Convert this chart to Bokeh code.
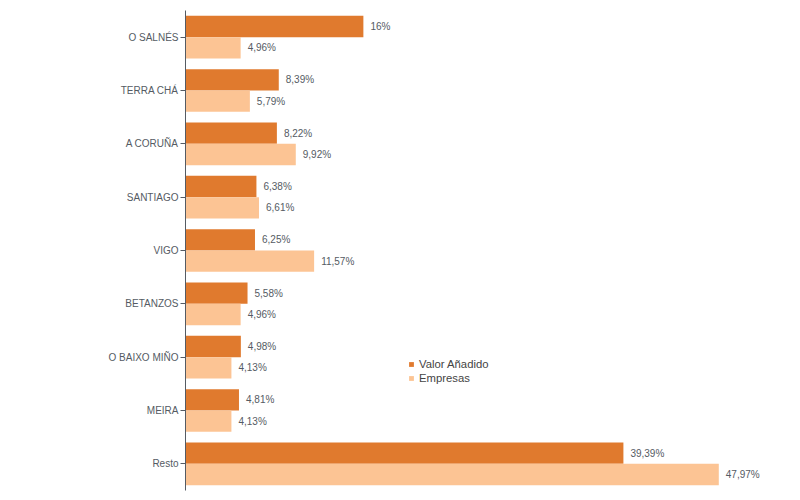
from bokeh.plotting import figure
from bokeh.models import ColumnDataSource, FactorRange, Range1d, Legend, LegendItem
from bokeh.transform import dodge
from bokeh.core.properties import value
from bokeh.embed import file_html
from bokeh.resources import INLINE

categories = ["O SALNÉS", "TERRA CHÁ", "A CORUÑA", "SANTIAGO", "VIGO",
              "BETANZOS", "O BAIXO MIÑO", "MEIRA", "Resto"]
valor_anadido = [16, 8.39, 8.22, 6.38, 6.25, 5.58, 4.98, 4.81, 39.39]
empresas = [4.96, 5.79, 9.92, 6.61, 11.57, 4.96, 4.13, 4.13, 47.97]
series_names = ["Valor Añadido", "Empresas"]

DARK = "#e07a2e"
LIGHT = "#fcc494"
TXT = "#555b63"
FONT = "Liberation Sans"

def fmt(v):
    return f"{v:g}".replace(".", ",") + "%"

src = ColumnDataSource(dict(
    cat=categories,
    va=valor_anadido,
    em=empresas,
    va_lbl=[fmt(v) for v in valor_anadido],
    em_lbl=[fmt(v) for v in empresas],
))

p = figure(width=792, height=492, output_backend="svg", toolbar_location=None,
           y_range=FactorRange(factors=list(reversed(categories)), range_padding=0),
           x_range=Range1d(0, 54.6),
           min_border_left=185, min_border_right=0, min_border_top=10, min_border_bottom=2)

r1 = p.hbar(y=dodge("cat", 0.2, range=p.y_range), right="va", left=0, height=0.4,
            source=src, color=DARK, line_color=None)
r2 = p.hbar(y=dodge("cat", -0.2, range=p.y_range), right="em", left=0, height=0.4,
            source=src, color=LIGHT, line_color=None)

p.text(x="va", y=dodge("cat", 0.2, range=p.y_range), text="va_lbl", source=src,
       x_offset=7, text_baseline="middle", text_align="left",
       text_font=value(FONT), text_font_size="10px", text_color=TXT)
p.text(x="em", y=dodge("cat", -0.2, range=p.y_range), text="em_lbl", source=src,
       x_offset=7, text_baseline="middle", text_align="left",
       text_font=value(FONT), text_font_size="10px", text_color=TXT)

p.xaxis.visible = False
p.xgrid.visible = False
p.ygrid.visible = False
p.outline_line_color = None

ya = p.yaxis[0]
ya.axis_line_color = "#555b63"
ya.major_tick_line_color = "#555b63"
ya.major_tick_out = 5
ya.major_tick_in = 0
ya.minor_tick_line_color = None
ya.major_label_text_font = FONT
ya.major_label_text_font_size = "10px"
ya.major_label_text_color = TXT
ya.major_label_standoff = 2

legend = Legend(items=[LegendItem(label=series_names[0], renderers=[r1]),
                       LegendItem(label=series_names[1], renderers=[r2])],
                location=(223, 106), orientation="vertical",
                glyph_width=6, glyph_height=6, label_height=13, spacing=1,
                padding=0, margin=0, border_line_color=None, background_fill_alpha=0,
                label_text_font=FONT, label_text_font_size="11.3px",
                label_text_color="#444", label_standoff=5)
p.add_layout(legend, "center")

open("out.html", "w").write(file_html(p, INLINE))
